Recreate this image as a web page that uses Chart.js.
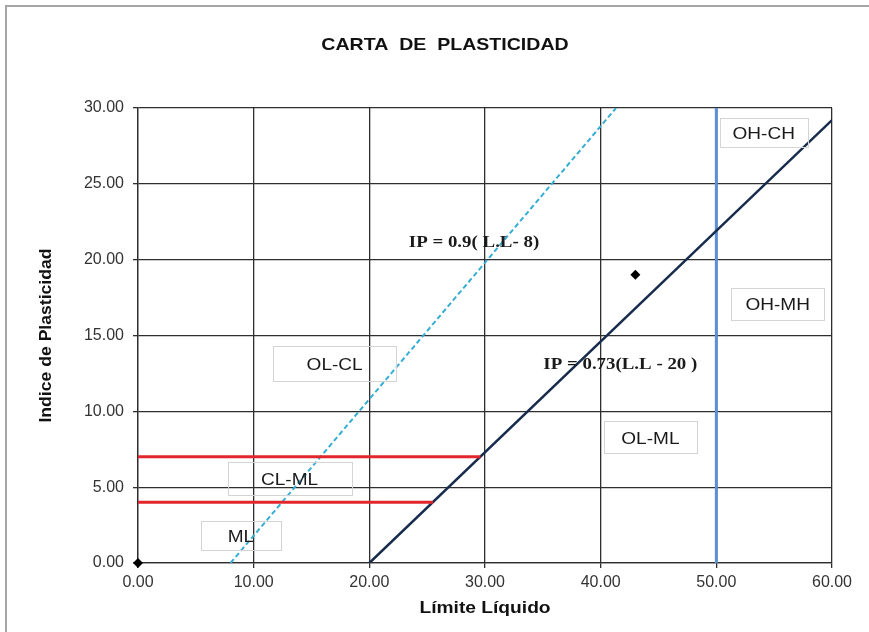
<!DOCTYPE html>
<html>
<head>
<meta charset="utf-8">
<script src="https://cdn.jsdelivr.net/npm/chart.js@4/dist/chart.umd.min.js"></script>
<style>
  html, body { margin: 0; padding: 0; background: #fff; }
  canvas { display: block; }
</style>
</head>
<body>
<canvas id="chart" width="869" height="632"></canvas>
<script>
// Carta de plasticidad: LL en x, IP en y
const xTicks = [0, 10, 20, 30, 40, 50, 60];
const yTicks = [0, 5, 10, 15, 20, 25, 30];

const lineaU_LL = [8, 41.33];      // IP = 0.9(LL - 8)
const lineaU_IP = [0, 30];
const lineaA_LL = [20, 60];        // IP = 0.73(LL - 20)
const lineaA_IP = [0, 29.2];
const lineaLL50_LL = [50, 50];
const lineaLL50_IP = [0, 30];
const limite7_LL = [0, 29.6];
const limite7_IP = [7, 7];
const limite4_LL = [0, 25.5];
const limite4_IP = [4, 4];

const muestraLL = [0, 43];
const muestraIP = [0, 19];

const zonas = ['OH-CH', 'OH-MH', 'OL-ML', 'OL-CL', 'CL-ML', 'ML'];
const ecuaciones = ['IP = 0.9( L.L- 8)', 'IP = 0.73(L.L - 20 )'];

// donde va cada rotulo (unidades de la carta) y tamaño de su recuadro en px
const zonaPos = [
  { x: 54.1, y: 28.4, w: 88, h: 29 },
  { x: 55.3, y: 17.1, w: 93, h: 32 },
  { x: 44.3, y: 8.3, w: 93, h: 32 },
  { x: 17.0, y: 13.15, w: 123, h: 35 },
  { x: 13.1, y: 5.57, w: 124, h: 33 },
  { x: 8.9, y: 1.8, w: 80, h: 29 }
];
const ecuacionPos = [
  { x: 29.05, y: 21.1 },
  { x: 41.7, y: 13.05 }
];

const SANS = '"Liberation Sans", Arial, sans-serif';
const SERIF = '"Liberation Serif", "Times New Roman", serif';

const pts = (xs, ys) => xs.map((x, i) => ({ x: x, y: ys[i] }));

function drawStretched(ctx, text, x, y, sx, rot) {
  ctx.save();
  ctx.translate(x, y);
  if (rot) ctx.rotate(rot);
  ctx.scale(sx, 1);
  ctx.fillText(text, 0, 0);
  ctx.restore();
}

const cartaPlugin = {
  id: 'carta',
  beforeDraw(chart) {
    const ctx = chart.ctx;
    ctx.save();
    ctx.fillStyle = '#fff';
    ctx.fillRect(0, 0, chart.width, chart.height);
    // marco gris
    ctx.strokeStyle = '#a6a6a6';
    ctx.lineWidth = 2;
    ctx.beginPath();
    ctx.moveTo(6, chart.height);
    ctx.lineTo(6, 6);
    ctx.lineTo(chart.width, 6);
    ctx.stroke();
    // titulos
    ctx.fillStyle = '#111';
    ctx.textAlign = 'center';
    ctx.textBaseline = 'middle';
    ctx.font = 'bold 17px ' + SANS;
    drawStretched(ctx, 'CARTA  DE  PLASTICIDAD', 445, 45, 1.15);
    const area = chart.chartArea;
    ctx.font = 'bold 16px ' + SANS;
    drawStretched(ctx, 'Límite Líquido', (area.left + area.right) / 2, 609, 1.2);
    drawStretched(ctx, 'Indice de Plasticidad', 47, (area.top + area.bottom) / 2, 1.1, -Math.PI / 2);
    ctx.restore();
  },
  afterDatasetsDraw(chart) {
    const ctx = chart.ctx;
    const xs = chart.scales.x, ys = chart.scales.y;
    ctx.save();
    ctx.textAlign = 'center';
    ctx.textBaseline = 'middle';
    zonas.forEach((z, i) => {
      const p = zonaPos[i];
      const cx = xs.getPixelForValue(p.x), cy = ys.getPixelForValue(p.y);
      ctx.strokeStyle = '#d4d4d4';
      ctx.lineWidth = 1;
      ctx.strokeRect(Math.round(cx - p.w / 2) + 0.5, Math.round(cy - p.h / 2) + 0.5, p.w, p.h);
      ctx.fillStyle = '#1a1a1a';
      ctx.font = '17px ' + SANS;
      drawStretched(ctx, z, cx, cy + 2, 1.12);
    });
    ctx.font = 'bold 16px ' + SERIF;
    ctx.fillStyle = '#1a1a1a';
    ecuaciones.forEach((t, i) => {
      const p = ecuacionPos[i];
      drawStretched(ctx, t, xs.getPixelForValue(p.x), ys.getPixelForValue(p.y), 1.18);
    });
    ctx.restore();
  }
};

const lineDs = (data, color, width, dash) => ({
  data: data,
  showLine: true,
  borderColor: color,
  borderWidth: width,
  borderDash: dash || [],
  pointRadius: 0,
  pointHoverRadius: 0,
  fill: false
});

new Chart(document.getElementById('chart'), {
  type: 'scatter',
  data: {
    datasets: [
      lineDs(pts(limite7_LL, limite7_IP), '#e3262b', 3),
      lineDs(pts(limite4_LL, limite4_IP), '#e3262b', 3),
      lineDs(pts(lineaU_LL, lineaU_IP), '#36aed3', 2, [5, 3]),
      lineDs(pts(lineaA_LL, lineaA_IP), '#172b4d', 2.5),
      lineDs(pts(lineaLL50_LL, lineaLL50_IP), '#5b8fd6', 3),
      {
        data: pts(muestraLL, muestraIP),
        pointStyle: 'rectRot',
        pointRadius: 5,
        backgroundColor: '#000',
        borderColor: '#000',
        borderWidth: 0,
        showLine: false,
        clip: false
      }
    ]
  },
  options: {
    responsive: false,
    animation: false,
    events: [],
    layout: { padding: { top: 108, right: 37, left: 0, bottom: 0 } },
    plugins: {
      legend: { display: false },
      title: { display: false },
      tooltip: { enabled: false }
    },
    scales: {
      x: {
        type: 'linear',
        min: 0, max: 60,
        afterBuildTicks: (s) => { s.ticks = xTicks.map(v => ({ value: v })); },
        afterFit: (s) => { s.height = 69; },
        ticks: {
          callback: (v) => v.toFixed(2),
          color: '#333',
          font: { family: SANS, size: 16 },
          padding: 5,
          maxRotation: 0
        },
        grid: { color: '#2e2e2e', lineWidth: 1.3, tickLength: 5 },
        border: { color: '#2e2e2e', width: 1.3 }
      },
      y: {
        type: 'linear',
        min: 0, max: 30,
        afterBuildTicks: (s) => { s.ticks = yTicks.map(v => ({ value: v })); },
        afterFit: (s) => { s.width = 138; },
        ticks: {
          callback: (v) => v.toFixed(2),
          color: '#333',
          font: { family: SANS, size: 16 },
          padding: 9
        },
        grid: { color: '#2e2e2e', lineWidth: 1.3, tickLength: 5 },
        border: { color: '#2e2e2e', width: 1.3 }
      }
    }
  },
  plugins: [cartaPlugin]
});
</script>
</body>
</html>
